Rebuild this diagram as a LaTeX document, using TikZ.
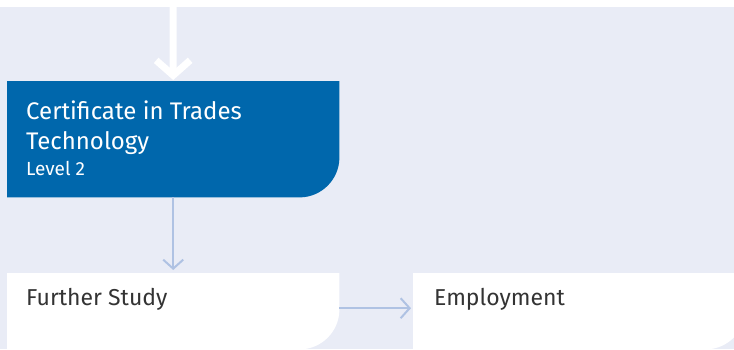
\documentclass[tikz,border=0pt]{standalone}
\usepackage{fontspec}
\setmainfont{Fira Sans}
\usetikzlibrary{arrows.meta}
\definecolor{bgl}{HTML}{E9ECF6}
\definecolor{cblue}{HTML}{0067AC}
\definecolor{lblue}{HTML}{AFC2E3}
\definecolor{tgray}{HTML}{333333}
\tikzset{
  box/.style={rectangle, draw=none, inner sep=0pt, anchor=north west, minimum width=332pt},
  lbl/.style={anchor=base west, inner sep=0pt},
  flow/.style={draw=lblue, line width=2pt, -{Straight Barb[length=9pt, width=20pt]}},
  entry/.style={draw=white, line width=7pt, -{Straight Barb[length=15pt, width=34pt]}}
}
\begin{document}
\begin{tikzpicture}[x=1pt, y=1pt]
\useasboundingbox (0,0) rectangle (734,349);
\clip (0,0) rectangle (734,349);
\fill[bgl] (0,0) rectangle (734,342);
% boxes (named, shape drawn below)
\node[box, minimum height=116pt] (cert) at (7,268) {};
\node[box, minimum height=76pt] (further) at (7,76) {};
\node[box, minimum height=76pt] (employ) at (413,76) {};
\fill[cblue] (cert.north west) -- (cert.north east) -- ([yshift=40pt]cert.south east)
  arc[start angle=0, end angle=-90, radius=40pt] -- (cert.south west) -- cycle;
\fill[white] (further.north west) -- (further.north east) -- ([yshift=40pt]further.south east)
  arc[start angle=0, end angle=-90, radius=40pt] -- (further.south west) -- cycle;
\fill[white] (employ.north west) -- (employ.north east) -- ([yshift=40pt]employ.south east)
  arc[start angle=0, end angle=-90, radius=40pt] -- (employ.south west) -- cycle;
% labels
\node[lbl, text=white, font=\fontsize{24}{30}\selectfont] (c1) at (26,230) {Certificate in Trades};
\node[lbl, text=white, font=\fontsize{24}{30}\selectfont] (c2) at (26,199.7) {Technology};
\node[lbl, text=white, font=\fontsize{19}{23}\selectfont] (c3) at (26,174) {Level 2};
\node[lbl, text=tgray, font=\fontsize{23}{28}\selectfont] (f1) at (26,44) {Further Study};
\node[lbl, text=tgray, font=\fontsize{23}{28}\selectfont] (e1) at (434,44) {Employment};
% connectors
\coordinate (top) at (173,349);
\draw[entry, shorten >=1pt] (top) -- (cert.north);
\draw[flow, shorten >=3pt] (cert.south) -- (further.north);
\draw[flow, shorten >=2pt] ([yshift=3pt]further.east) -- ([yshift=3pt]employ.west);
\end{tikzpicture}
\end{document}
